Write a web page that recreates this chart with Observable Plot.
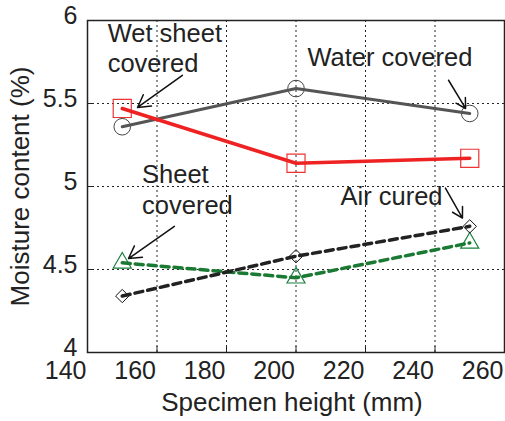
<!DOCTYPE html>
<html>
<head>
<meta charset="utf-8">
<script src="https://cdn.jsdelivr.net/npm/d3@7"></script>
<script src="https://cdn.jsdelivr.net/npm/@observablehq/plot@0.6"></script>
<style>
  html, body { margin: 0; padding: 0; background: #fff; }
  svg { display: block; }
</style>
</head>
<body>
<div id="chart"></div>
<script>
const heights = [150, 200, 250];
const waterCovered = [5.36, 5.59, 5.44];
const wetSheetCovered = [5.47, 5.14, 5.17];
const sheetCovered = [4.54, 4.45, 4.66];
const airCured = [4.34, 4.58, 4.76];

const xTicks = [140, 160, 180, 200, 220, 240, 260];
const yTicks = [4, 4.5, 5, 5.5, 6];

const labelText = ["Wet sheet\ncovered", "Water covered", "Sheet\ncovered", "Air cured"];
const labelX = [145.8, 203.3, 155.7, 212.8];
const labelY = [5.687, 5.725, 4.837, 4.89];

const arrowX1 = [167.3, 243.9, 165.0, 243.0];
const arrowY1 = [5.67, 5.64, 4.76, 4.99];
const arrowX2 = [154.4, 248.8, 151.8, 247.9];
const arrowY2 = [5.476, 5.47, 4.566, 4.81];

const xLabel = "Specimen height (mm)";
const yLabel = "Moisture content (%)";

const mk = (vals) => heights.map((h, i) => ({x: h, y: vals[i]}));
const water = mk(waterCovered), wet = mk(wetSheetCovered), sheet = mk(sheetCovered), air = mk(airCured);
const labels = labelText.map((t, i) => ({t, x: labelX[i], y: labelY[i]}));
const arrows = arrowX1.map((_, i) => ({x1: arrowX1[i], y1: arrowY1[i], x2: arrowX2[i], y2: arrowY2[i]}));

const font = "Liberation Sans, Arial, Helvetica, sans-serif";

const chart = Plot.plot({
  width: 505,
  height: 421,
  marginLeft: 87,
  marginRight: 1,
  marginTop: 20,
  marginBottom: 69,
  style: {fontFamily: font, background: "#fff"},
  x: {domain: [140, 260]},
  y: {domain: [4, 6]},
  marks: [
    Plot.gridX(xTicks, {stroke: "#000", strokeOpacity: 0.85, strokeDasharray: "2,3", strokeWidth: 1}),
    Plot.gridY(yTicks, {stroke: "#000", strokeOpacity: 0.85, strokeDasharray: "2,3", strokeWidth: 1}),
    Plot.tickX(xTicks, {x: d => d, insetTop: 326, stroke: "#222"}),
    Plot.tickY(yTicks, {y: d => d, insetRight: 411, stroke: "#222"}),
    Plot.frame({stroke: "#222", strokeWidth: 1.5}),
    Plot.axisX({ticks: xTicks, tickSize: 0, tickPadding: 9, textAnchor: "end", dx: -1, fontSize: 25, fill: "#222", label: null}),
    Plot.axisY({ticks: yTicks, tickSize: 0, tickPadding: 10, tickFormat: d => String(d), fontSize: 25, fill: "#222", dy: -5, label: null}),
    Plot.text([xLabel], {frameAnchor: "bottom", dy: 58, dx: -4, textAnchor: "middle", fontSize: 26, fill: "#222"}),
    Plot.text([yLabel], {frameAnchor: "left", dx: -67, rotate: -90, textAnchor: "middle", fontSize: 26, fill: "#222"}),
    // markers
    Plot.dot(water, {x: "x", y: "y", symbol: "circle", r: 8.3, stroke: "#444", strokeWidth: 1, fill: "none"}),
    Plot.dot(wet, {x: "x", y: "y", symbol: "square", r: 10.2, stroke: "#ee3333", strokeWidth: 1.2, fill: "none"}),
    Plot.dot(sheet, {x: "x", y: "y", symbol: "triangle", r: 6.7, stroke: "#1a8040", strokeWidth: 1.2, fill: "none"}),
    Plot.dot(air, {x: "x", y: "y", symbol: "diamond2", r: 6, stroke: "#111", strokeWidth: 1, fill: "none"}),
    // lines
    Plot.line(water, {x: "x", y: "y", stroke: "#555", strokeWidth: 3}),
    Plot.line(wet, {x: "x", y: "y", stroke: "#ee2222", strokeWidth: 3.5}),
    Plot.line(sheet, {x: "x", y: "y", stroke: "#1a7a33", strokeWidth: 3.5, strokeDasharray: "8,5"}),
    Plot.line(air, {x: "x", y: "y", stroke: "#222", strokeWidth: 3.5, strokeDasharray: "8,5"}),
    // annotations
    Plot.arrow(arrows, {x1: "x1", y1: "y1", x2: "x2", y2: "y2", stroke: "#111", strokeWidth: 1.5, headLength: 14, bend: 0}),
    Plot.text(labels, {x: "x", y: "y", text: "t", textAnchor: "start", lineAnchor: "bottom", lineHeight: 1.2, fontSize: 25.5, fill: "#222"})
  ]
});
document.getElementById("chart").appendChild(chart);
</script>
</body>
</html>
